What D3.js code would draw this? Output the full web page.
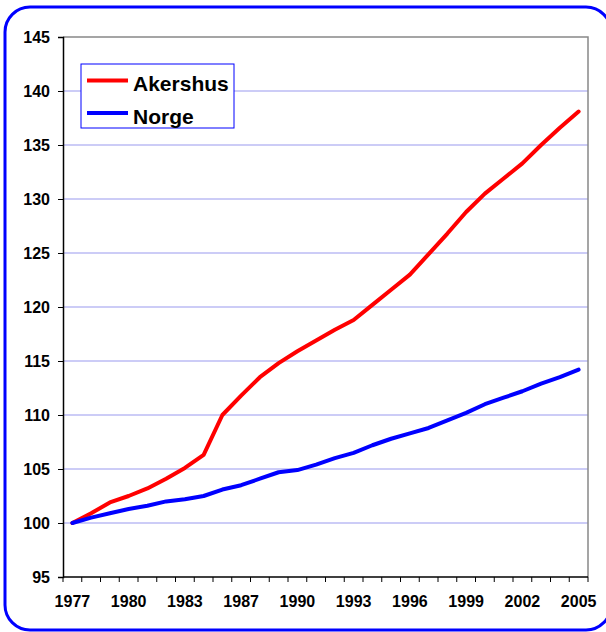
<!DOCTYPE html>
<html lang="no">

<head>
    <meta charset="UTF-8">
    <title>Akershus og Norge, indeks 1977 = 100</title>
    <script src="https://d3js.org/d3.v7.min.js"></script>
    <style>
        body { margin: 0; background: #fff; }
        svg { display: block; font-family: "Liberation Sans", Arial, sans-serif; }
        .tick text { font-size: 16px; font-weight: bold; fill: #000; }
    </style>
</head>

<body>
    <svg width="606" height="632"></svg>
    <script>
        // years on the category axis (1985 is not in the series)
        const years = [1977, 1978, 1979, 1980, 1981, 1982, 1983, 1984, 1986, 1987,
            1988, 1989, 1990, 1991, 1992, 1993, 1994, 1995, 1996, 1997,
            1998, 1999, 2000, 2001, 2002, 2003, 2004, 2005];
        const shownYears = [1977, 1980, 1983, 1987, 1990, 1993, 1996, 1999, 2002, 2005];

        const akershus = [100, 100.9, 101.9, 102.5, 103.2, 104.1, 105.1, 106.3, 110.0, 111.8,
            113.5, 114.8, 115.9, 116.9, 117.9, 118.8, 120.2, 121.6, 123.0, 124.9,
            126.8, 128.8, 130.5, 131.9, 133.3, 135.0, 136.6, 138.1];
        const norge = [100, 100.5, 100.9, 101.3, 101.6, 102.0, 102.2, 102.5, 103.1, 103.5,
            104.1, 104.7, 104.9, 105.4, 106.0, 106.5, 107.2, 107.8, 108.3, 108.8,
            109.5, 110.2, 111.0, 111.6, 112.2, 112.9, 113.5, 114.2];

        const seriesNames = ["Akershus", "Norge"];
        const seriesColors = ["#ff0000", "#0000ff"];
        const yTicks = [95, 100, 105, 110, 115, 120, 125, 130, 135, 140, 145];

        const margin = { top: 37, right: 18, bottom: 55, left: 63 },
            width = 606 - margin.left - margin.right,
            height = 632 - margin.top - margin.bottom;

        const root = d3.select("svg");

        root.append("rect")
            .attr("x", 5)
            .attr("y", 7)
            .attr("width", 606)
            .attr("height", 623)
            .attr("rx", 25)
            .attr("fill", "none")
            .attr("stroke", "#0000ff")
            .attr("stroke-width", 3);

        const svg = root.append("g")
            .attr("transform", `translate(${margin.left},${margin.top})`);

        const x = d3.scaleBand()
            .domain(years)
            .range([0, width])
            .padding(0);

        const y = d3.scaleLinear()
            .domain([95, 145])
            .range([height, 0]);

        // gridlines
        svg.append("g")
            .selectAll("line")
            .data(yTicks.filter(d => d > 95 && d < 145))
            .enter().append("line")
            .attr("x1", 0)
            .attr("x2", width)
            .attr("y1", d => y(d))
            .attr("y2", d => y(d))
            .attr("stroke", "#9999ee")
            .attr("stroke-width", 1);

        // top and right frame
        svg.append("path")
            .attr("d", `M0,${y(145)}H${width}V${height}`)
            .attr("fill", "none")
            .attr("stroke", "#888")
            .attr("stroke-width", 1.5);

        // x axis: ticks between categories, labels every third year
        const xAxis = svg.append("g")
            .attr("transform", `translate(0,${height})`);
        xAxis.append("line")
            .attr("x1", 0).attr("x2", width)
            .attr("stroke", "#000").attr("stroke-width", 1.5);
        xAxis.selectAll(".xt")
            .data(d3.range(years.length + 1))
            .enter().append("line")
            .attr("class", "xt")
            .attr("x1", i => i * x.step())
            .attr("x2", i => i * x.step())
            .attr("y1", 0).attr("y2", 5)
            .attr("stroke", "#000");
        xAxis.selectAll("text")
            .data(shownYears)
            .enter().append("text")
            .attr("x", d => x(d) + x.bandwidth() / 2)
            .attr("y", 30)
            .attr("text-anchor", "middle")
            .attr("font-size", 16)
            .attr("font-weight", "bold")
            .text(d => d);

        const yAxis = svg.append("g")
            .call(d3.axisLeft(y).tickValues(yTicks).tickSize(5).tickPadding(8));
        yAxis.select(".domain").attr("stroke", "#000").attr("stroke-width", 1.5);
        yAxis.selectAll(".tick text").attr("dy", "0.36em");

        const line = d3.line()
            .x((d, i) => x(years[i]) + x.bandwidth() / 2)
            .y(d => y(d));

        [akershus, norge].forEach((values, k) => {
            svg.append("path")
                .datum(values)
                .attr("fill", "none")
                .attr("stroke", seriesColors[k])
                .attr("stroke-width", 4)
                .attr("stroke-linejoin", "round")
                .attr("stroke-linecap", "round")
                .attr("d", line);
        });

        // legend
        const legend = root.append("g")
            .attr("transform", "translate(81,64)");
        legend.append("rect")
            .attr("width", 153)
            .attr("height", 64)
            .attr("fill", "#fff")
            .attr("stroke", "#0000ff")
            .attr("stroke-width", 1);
        seriesNames.forEach((name, k) => {
            const ly = 16.5 + k * 32.5;
            legend.append("line")
                .attr("x1", 6).attr("x2", 47)
                .attr("y1", ly).attr("y2", ly)
                .attr("stroke", seriesColors[k])
                .attr("stroke-width", 4);
            legend.append("text")
                .attr("x", 52)
                .attr("y", ly + 10.5)
                .attr("font-size", 21)
                .attr("font-weight", "bold")
                .text(name);
        });
    </script>
</body>

</html>
